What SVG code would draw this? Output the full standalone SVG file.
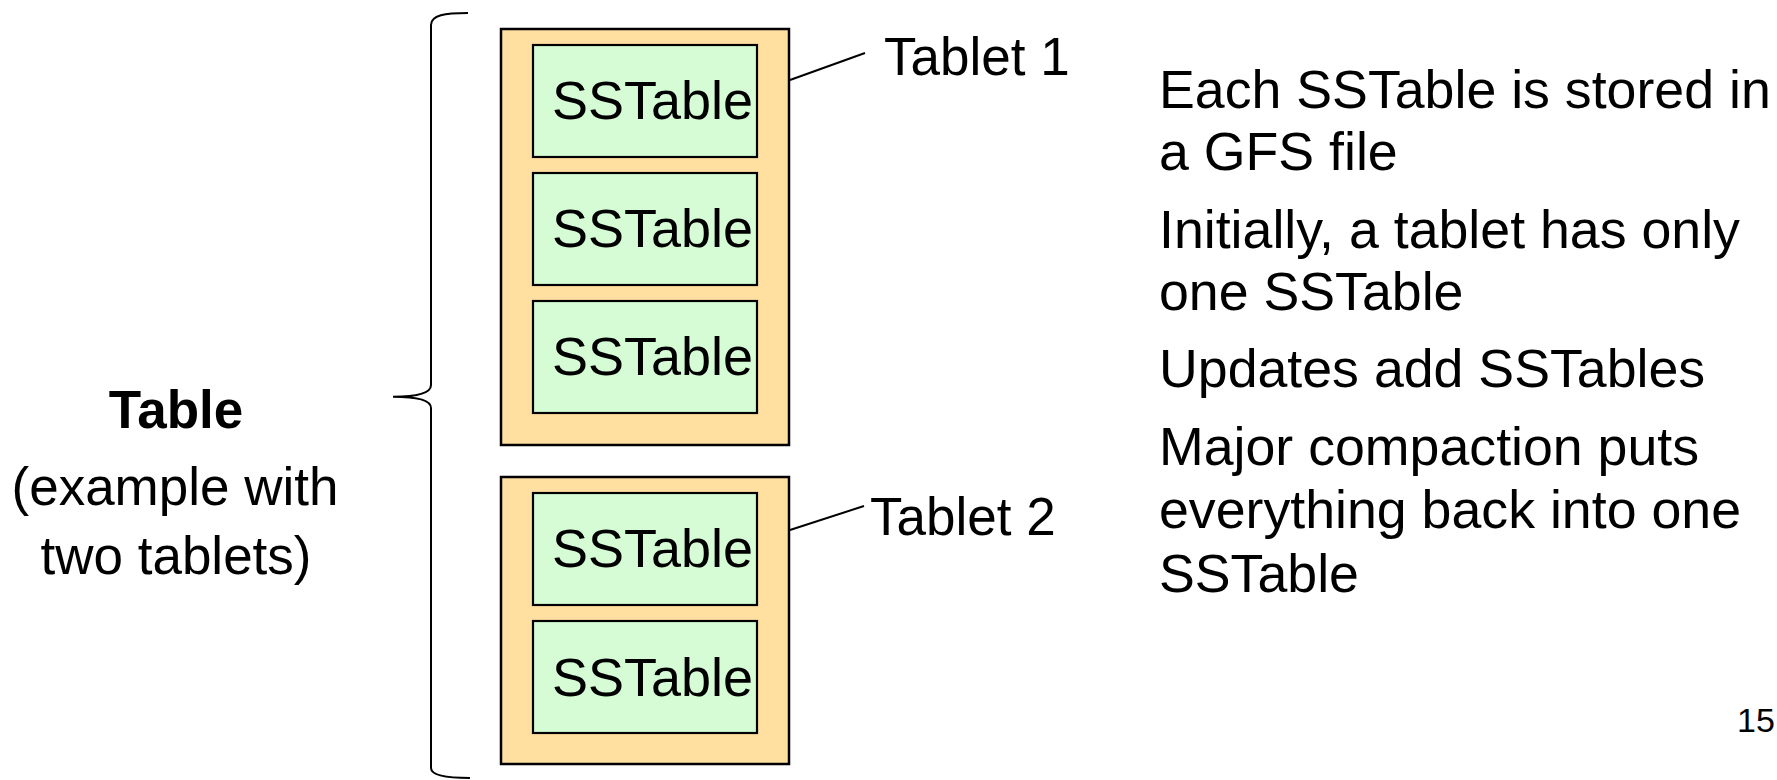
<svg xmlns="http://www.w3.org/2000/svg" width="1777" height="780" viewBox="0 0 1777 780">
<style>
text { font-family: "Liberation Sans", Arial, sans-serif; fill: #000; }
.tablet { fill: #FFE0A1; stroke: #000; stroke-width: 2.5; }
.sst { fill: #D5FCD5; stroke: #000; stroke-width: 2.2; }
.sstxt { font-size: 54px; }
.lbl { font-size: 53px; }
.body { font-size: 53.7px; }
.left { font-size: 53px; text-anchor: middle; }
.line { stroke: #000; stroke-width: 2; fill: none; }
</style>
<rect width="1777" height="780" fill="#fff"/>
<g id="table-label">
<text class="left" x="176" y="428" font-weight="bold">Table</text>
<text class="left" x="175" y="505">(example with</text>
<text class="left" x="176" y="574">two tablets)</text>
</g>
<g id="brace">
<path class="line" d="M468,13 C445,13 431,15 431,25 L431,385 C431,393 418,396.7 393,396.7 C418,396.7 431,400 431,408 L431,768 C431,775 445,778 470,778"/>
</g>
<g id="tablet1">
<rect class="tablet" x="501" y="29" width="288" height="416"/>
<g id="t1-sst1"><rect class="sst" x="533" y="45" width="224" height="112"/><text class="sstxt" x="552" y="119">SSTable</text></g>
<g id="t1-sst2"><rect class="sst" x="533" y="173" width="224" height="112"/><text class="sstxt" x="552" y="247">SSTable</text></g>
<g id="t1-sst3"><rect class="sst" x="533" y="301" width="224" height="112"/><text class="sstxt" x="552" y="375">SSTable</text></g>
</g>
<g id="tablet2">
<rect class="tablet" x="501" y="477" width="288" height="287"/>
<g id="t2-sst1"><rect class="sst" x="533" y="493" width="224" height="112"/><text class="sstxt" x="552" y="567">SSTable</text></g>
<g id="t2-sst2"><rect class="sst" x="533" y="621" width="224" height="112"/><text class="sstxt" x="552" y="696">SSTable</text></g>
</g>
<g id="connectors">
<line class="line" x1="790" y1="80" x2="865" y2="53"/>
<line class="line" x1="790" y1="530" x2="864" y2="506"/>
</g>
<g id="tablet-labels">
<text class="lbl" x="884" y="75">Tablet 1</text>
<text class="lbl" x="870" y="535">Tablet 2</text>
</g>
<g id="notes">
<text class="body" x="1159" y="108">Each SSTable is stored in</text>
<text class="body" x="1159" y="170">a GFS file</text>
<text class="body" x="1159" y="248">Initially, a tablet has only</text>
<text class="body" x="1159" y="310">one SSTable</text>
<text class="body" x="1159" y="387">Updates add SSTables</text>
<text class="body" x="1159" y="465">Major compaction puts</text>
<text class="body" x="1159" y="528">everything back into one</text>
<text class="body" x="1159" y="592">SSTable</text>
</g>
<text x="1737" y="732" font-size="34">15</text>
</svg>
